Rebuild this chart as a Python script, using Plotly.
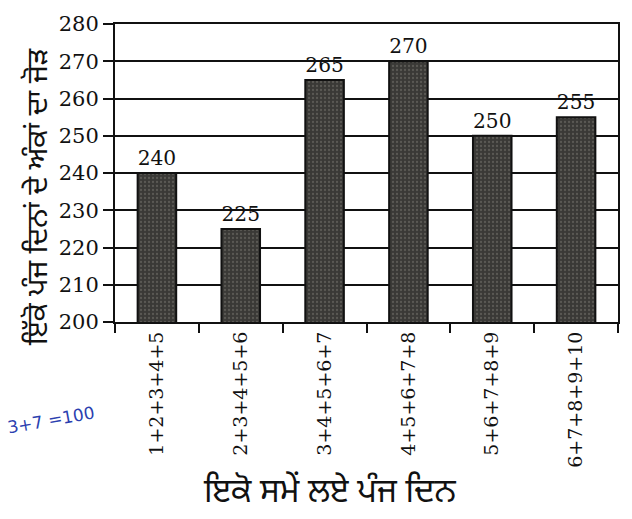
import plotly.graph_objects as go

# five-day groups and their totals
groups = ["1+2+3+4+5", "2+3+4+5+6", "3+4+5+6+7", "4+5+6+7+8", "5+6+7+8+9", "6+7+8+9+10"]
totals = [240, 225, 265, 270, 250, 255]
y_ticks = [200, 210, 220, 230, 240, 250, 260, 270, 280]

x_title = "ਇਕੋ ਸਮੇਂ ਲਏ ਪੰਜ ਦਿਨ"
y_title = "ਇੱਕੋ ਪੰਜ ਦਿਨਾਂ ਦੇ ਅੰਕਾਂ ਦਾ ਜੋੜ"

serif = "DejaVu Serif, Liberation Serif, serif"
gurmukhi = "Noto Sans Gurmukhi, Noto Sans, sans-serif"

fig = go.Figure(
    go.Bar(
        x=groups,
        y=totals,
        text=[str(v) for v in totals],
        textposition="outside",
        cliponaxis=False,
        textfont=dict(family=serif, size=21, color="#111"),
        marker=dict(
            color="#3a3936",
            line=dict(color="#111", width=2),
            pattern=dict(shape=".", fgcolor="#7a7872", size=4, solidity=0.25),
        ),
        width=0.46,
    )
)

fig.update_layout(
    width=632,
    height=519,
    margin=dict(l=115, r=12, t=20, b=197),
    paper_bgcolor="white",
    plot_bgcolor="white",
    showlegend=False,
    font=dict(family=serif, color="#111"),
    xaxis=dict(
        tickangle=-90,
        tickfont=dict(family=serif, size=19, color="#111"),
        ticks="outside",
        tickson="boundaries",
        ticklen=9,
        tickwidth=2,
        tickcolor="#111",
        showline=True,
        linecolor="#111",
        linewidth=2,
        mirror=True,
        showgrid=False,
    ),
    yaxis=dict(
        range=[200, 280],
        tickvals=y_ticks,
        tickfont=dict(family=serif, size=21, color="#111"),
        ticks="outside",
        ticklen=10,
        tickwidth=2,
        tickcolor="#111",
        showline=True,
        linecolor="#111",
        linewidth=2,
        mirror=True,
        showgrid=True,
        gridcolor="#111",
        gridwidth=1.6,
        zeroline=False,
    ),
)

# axis titles
fig.add_annotation(
    text=x_title, xref="paper", yref="paper",
    x=0.426, y=-0.575, xanchor="center", yanchor="middle",
    showarrow=False, font=dict(family=gurmukhi, size=33, color="#111"),
)
fig.add_annotation(
    text=y_title, xref="paper", yref="paper",
    x=-0.149, y=0.42, xanchor="center", yanchor="middle",
    textangle=-90, showarrow=False,
    font=dict(family=gurmukhi, size=29, color="#111"),
)

# handwritten note in the margin
fig.add_annotation(
    text="3+7 =100",
    xref="paper", yref="paper",
    x=-0.222, y=-0.33,
    xanchor="left", yanchor="middle",
    showarrow=False,
    textangle=-10,
    font=dict(family="DejaVu Sans", size=17, color="#2b3fb0"),
)

fig.write_html("out.html")
